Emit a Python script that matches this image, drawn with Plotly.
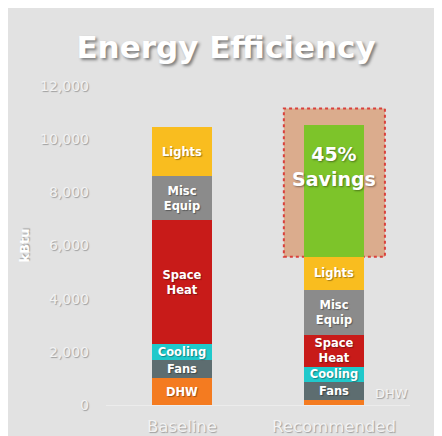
import plotly.graph_objects as go

categories = ["Baseline", "Recommended"]
segments = ["DHW", "Fans", "Cooling", "Space Heat", "Misc Equip", "Lights"]
seg_labels = ["DHW", "Fans", "Cooling", "Space<br>Heat", "Misc<br>Equip", "Lights"]
dhw = [1000, 200]
fans = [700, 680]
cooling = [600, 560]
space_heat = [4650, 1200]
misc_equip = [1650, 1700]
lights = [1850, 1240]
savings = [None, 4950]
savings_label = "45%<br>Savings"
y_ticks = [0, 2000, 4000, 6000, 8000, 10000, 12000]
y_ticktext = ["0", "2,000", "4,000", "6,000", "8,000", "10,000", "12,000"]
colors = ["#f47b20", "#5d6d70", "#20c9cb", "#c81b19", "#8b8b8b", "#f9bd1f"]

values = [dhw, fans, cooling, space_heat, misc_equip, lights]

BG = "#e2e2e2"
FONT = "DejaVu Sans, Verdana, sans-serif"
emboss = "1px 1px 1px rgba(0,0,0,0.35)"

W, H = 434, 428
L, R, T, B = 98, 32, 78, 31

fig = go.Figure()
for name, lab, vals, col in zip(segments, seg_labels, values, colors):
    texts = [lab if v is not None and v >= 400 else "" for v in vals]
    fig.add_trace(go.Bar(
        x=categories, y=vals, name=name, marker=dict(color=col, line=dict(width=0)),
        text=texts, textposition="inside", insidetextanchor="middle",
        textangle=0,
        insidetextfont=dict(family=FONT, size=11.5, color="white", weight="bold", shadow=emboss),
        width=0.4, hoverinfo="skip",
    ))
fig.add_trace(go.Bar(
    x=categories, y=savings, name="Savings", marker=dict(color="#7dc42a", line=dict(width=0)),
    width=0.4, hoverinfo="skip",
))

rec_total = sum(v[1] for v in values)
fig.add_shape(type="rect", xref="x", yref="y", x0=0.67, x1=1.335, y0=rec_total, y1=11150,
              fillcolor="#dbac8d", line=dict(color="#d9413c", width=2, dash="dot"), layer="below")

fig.add_annotation(x=1, y=rec_total + savings[1] * 0.685, xref="x", yref="y", text=savings_label,
                   showarrow=False, font=dict(family=FONT, size=19, color="white", weight="bold",
                                              shadow="1px 1px 2px rgba(0,0,0,0.4)"))
fig.add_annotation(x=1, y=dhw[1] * 2.07, xref="x", yref="y", xshift=57, text="DHW",
                   showarrow=False, font=dict(family=FONT, size=13, color="#f4f4f4",
                                              shadow="1px 1px 1px rgba(0,0,0,0.3)"))
fig.add_annotation(x=(16 - L) / (W - L - R), y=0.5, xref="paper", yref="paper", text="kBtu",
                   textangle=-90, xanchor="center", yanchor="middle",
                   showarrow=False, font=dict(family=FONT, size=13, color="white", weight="bold",
                                              shadow="1px 1px 1px rgba(0,0,0,0.3)"))

fig.update_layout(
    width=W, height=H,
    barmode="stack",
    showlegend=False,
    paper_bgcolor=BG, plot_bgcolor=BG,
    margin=dict(l=L, r=R, t=T, b=B, autoexpand=False),
    title=dict(text="Energy Efficiency", x=218 / W, xanchor="center", y=1 - 39 / H, yanchor="middle",
               xref="container", yref="container",
               font=dict(family=FONT, size=31, color="white", weight="bold",
                         shadow="2px 2px 3px rgba(0,0,0,0.45)")),
    uniformtext=dict(minsize=11, mode="show"),
    xaxis=dict(range=[-0.5, 1.5], showgrid=False, showline=False, zeroline=False, ticks="",
               automargin=False, ticklabelstandoff=9,
               tickfont=dict(family=FONT, size=16.5, color="#f2f2f2", shadow="1px 1px 1px rgba(0,0,0,0.3)")),
    yaxis=dict(range=[0, 12000], tickvals=y_ticks, ticktext=y_ticktext, showgrid=False,
               zeroline=True, zerolinecolor="#ececec", zerolinewidth=1, showline=False,
               automargin=False, ticklabelstandoff=16,
               tickfont=dict(family=FONT, size=14, color="#f2f2f2", shadow="1px 1px 1px rgba(0,0,0,0.3)")),
)

fig.write_html("out.html")
